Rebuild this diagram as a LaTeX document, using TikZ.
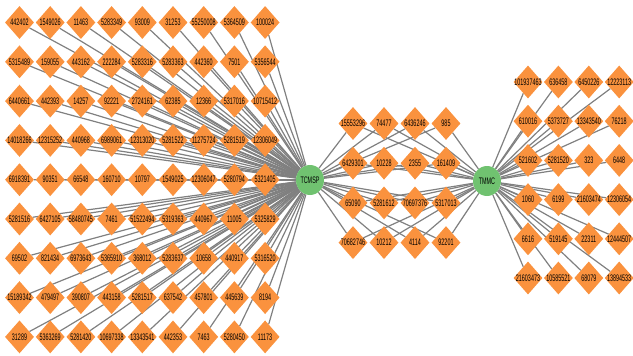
\documentclass[tikz,border=0pt]{standalone}
\usepackage{fontspec}
\setmainfont{Liberation Sans}[FakeStretch=0.57]
\usetikzlibrary{shapes.geometric}
\definecolor{dorange}{RGB}{250,146,62}
\definecolor{hubgreen}{RGB}{112,194,112}
\definecolor{edgegray}{RGB}{128,128,128}
\pgfdeclarelayer{edges}
\pgfsetlayers{edges,main}
\tikzset{
  compound/.style={diamond, fill=dorange, draw=none, inner sep=0pt,
    minimum width=29pt, minimum height=33pt, font=\fontsize{9.5}{9.5}\selectfont},
  hub/.style={ellipse, fill=hubgreen, draw=none, inner sep=0pt,
    minimum width=28pt, minimum height=30pt, font=\fontsize{9.5}{9.5}\selectfont},
  link/.style={draw=edgegray, line width=1.2pt}
}
\begin{document}
\begin{tikzpicture}[x=1pt,y=-1pt]
\useasboundingbox (0,0) rectangle (633,356);
% hubs
\node[hub] (TCMSP) at (310,180) {\makebox[0pt]{TCMSP}};
\node[hub] (TMMC) at (487,181) {\makebox[0pt]{TMMC}};
% left grid
\foreach \lbl [count=\i from 0] in {442402,1549026,11463,5283349,93009,31253,55250008,5364509,100024,
5315489,159055,443162,222284,5283316,5283363,442360,7501,5356544,
6440661,442393,14257,92221,2724161,62385,12366,5317016,10715412,
14018266,12315252,440968,6989061,12313020,5281522,11275724,5281519,12306049,
6918391,90351,66548,160710,10797,1549025,12306047,5280794,5321405,
5281516,6427105,58480745,7461,51522494,5319363,440967,11005,5325829,
69502,821434,6973643,5365910,368012,5283637,10658,440917,5316520,
15189342,479497,390807,443158,5281517,637542,457801,445639,8194,
31289,5363269,5281420,10697338,13343541,442353,7463,5280450,11173}{
  \pgfmathtruncatemacro{\c}{mod(\i,9)}
  \pgfmathtruncatemacro{\r}{div(\i,9)}
  \node[compound] (L\i) at ({19.5+30.7*\c},{22.5+39.3*\r}) {\makebox[0pt]{\lbl}};
  \begin{pgfonlayer}{edges}
    \draw[link] (L\i) -- (TCMSP);
  \end{pgfonlayer}
}
% middle grid
\foreach \lbl [count=\i from 0] in {15553296,74477,6436246,985,
6429301,10228,2355,161409,
65090,5281612,70697376,5317013,
70682746,10212,4114,92201}{
  \pgfmathtruncatemacro{\c}{mod(\i,4)}
  \pgfmathtruncatemacro{\r}{div(\i,4)}
  \node[compound] (M\i) at ({353+31*\c},{123.5+39.7*\r}) {\makebox[0pt]{\lbl}};
  \begin{pgfonlayer}{edges}
    \draw[link] (M\i) -- (TCMSP);
    \draw[link] (M\i) -- (TMMC);
  \end{pgfonlayer}
}
% right grid
\foreach \lbl [count=\i from 0] in {101937463,636458,6450226,12223113,
610016,5373727,13343540,76218,
521602,5281520,323,6448,
1060,6199,21603474,12306054,
6616,519145,22311,12444507,
21603473,10585521,68079,13894533}{
  \pgfmathtruncatemacro{\c}{mod(\i,4)}
  \pgfmathtruncatemacro{\r}{div(\i,4)}
  \node[compound] (R\i) at ({528+30.4*\c},{82+39.2*\r}) {\makebox[0pt]{\lbl}};
  \begin{pgfonlayer}{edges}
    \draw[link] (R\i) -- (TMMC);
  \end{pgfonlayer}
}
\end{tikzpicture}
\end{document}
